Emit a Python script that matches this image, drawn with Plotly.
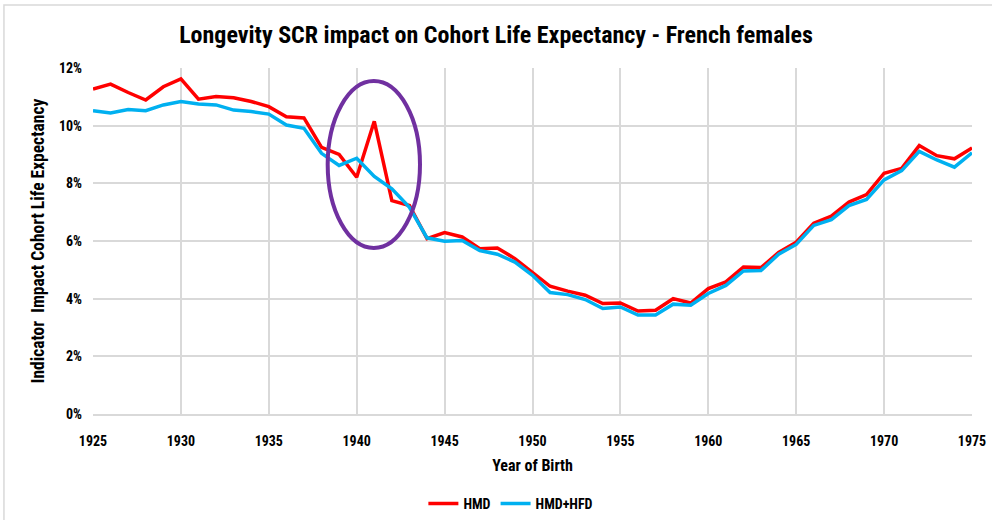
import plotly.graph_objects as go

years = list(range(1925, 1976))

hmd = [11.27, 11.44, 11.15, 10.89, 11.35, 11.62, 10.92, 11.01, 10.97, 10.84,
       10.66, 10.31, 10.27, 9.25, 9.00, 8.21, 10.15, 7.40, 7.23, 6.08,
       6.29, 6.14, 5.73, 5.76, 5.39, 4.92, 4.43, 4.26, 4.12, 3.83,
       3.85, 3.57, 3.60, 4.00, 3.85, 4.35, 4.58, 5.10, 5.08, 5.60,
       5.96, 6.62, 6.86, 7.35, 7.61, 8.35, 8.52, 9.31, 8.96, 8.85,
       9.23]

hmd_hfd = [10.52, 10.44, 10.56, 10.52, 10.72, 10.84, 10.75, 10.72, 10.54, 10.49,
           10.40, 10.02, 9.91, 9.04, 8.62, 8.87, 8.24, 7.81, 7.17, 6.11,
           5.99, 6.02, 5.67, 5.54, 5.27, 4.81, 4.21, 4.14, 3.97, 3.66,
           3.71, 3.43, 3.43, 3.81, 3.77, 4.18, 4.46, 4.96, 4.98, 5.54,
           5.88, 6.54, 6.74, 7.23, 7.44, 8.12, 8.44, 9.11, 8.81, 8.56,
           9.06]

hmd = [v / 100 for v in hmd]
hmd_hfd = [v / 100 for v in hmd_hfd]

x_ticks = list(range(1925, 1976, 5))
y_ticks = [0, 0.02, 0.04, 0.06, 0.08, 0.10, 0.12]

font_family = "Liberation Sans Narrow, Arial Narrow, Roboto Condensed, Liberation Sans, sans-serif"

fig = go.Figure()
fig.add_trace(go.Scatter(x=years, y=hmd, mode="lines", name="<b>HMD</b>",
                         line=dict(color="#FF0000", width=3.5)))
fig.add_trace(go.Scatter(x=years, y=hmd_hfd, mode="lines", name="<b>HMD+HFD</b>",
                         line=dict(color="#00B0F0", width=3.5)))

# highlight ellipse
fig.add_shape(type="circle", xref="x", yref="y",
              x0=1938.35, x1=1943.6, y0=0.0576, y1=0.1155,
              line=dict(color="#7030A0", width=4))

# outer chart border
fig.add_shape(type="rect", xref="paper", yref="paper",
              x0=-0.1013, x1=1.03, y0=-0.4, y1=1.182,
              line=dict(color="#D9D9D9", width=1.5), layer="below")

fig.update_layout(
    width=992, height=520,
    margin=dict(l=93, r=20, t=68, b=106),
    paper_bgcolor="white", plot_bgcolor="white",
    font=dict(family=font_family, color="#000000"),
    title=dict(text="<b>Longevity SCR impact on Cohort Life Expectancy - French females</b>",
               x=0.5, xanchor="center", xref="container",
               y=0.933, yanchor="middle", yref="container",
               font=dict(size=24, family=font_family, color="#000000")),
    xaxis=dict(range=[1925, 1975], tickvals=x_ticks,
               ticktext=[f"<b>{t}</b>" for t in x_ticks],
               showgrid=True, gridcolor="#D9D9D9", gridwidth=1.5,
               showline=True, linecolor="#D9D9D9", linewidth=1.5,
               ticks="", tickfont=dict(size=14), ticklabelstandoff=13,
               title=dict(text="<b>Year of Birth</b>", font=dict(size=16), standoff=12),
               zeroline=False, automargin=False),
    yaxis=dict(range=[0, 0.12], tickvals=y_ticks,
               ticktext=[f"<b>{int(round(t*100))}%</b>" for t in y_ticks],
               showgrid=True, gridcolor="#D9D9D9", gridwidth=1.5,
               ticks="", tickfont=dict(size=14), ticklabelstandoff=10,
               title=dict(text="<b>Indicator  Impact Cohort Life Expectancy</b>",
                          font=dict(size=17.5), standoff=9),
               zeroline=False, automargin=False),
    legend=dict(orientation="h", xref="container", yref="container",
                x=0.515, xanchor="center", y=0.031, yanchor="middle",
                font=dict(size=14)),
    showlegend=True,
)

fig.write_html("out.html", config={"displayModeBar": False},
               post_script="document.body.style.margin='0';")
